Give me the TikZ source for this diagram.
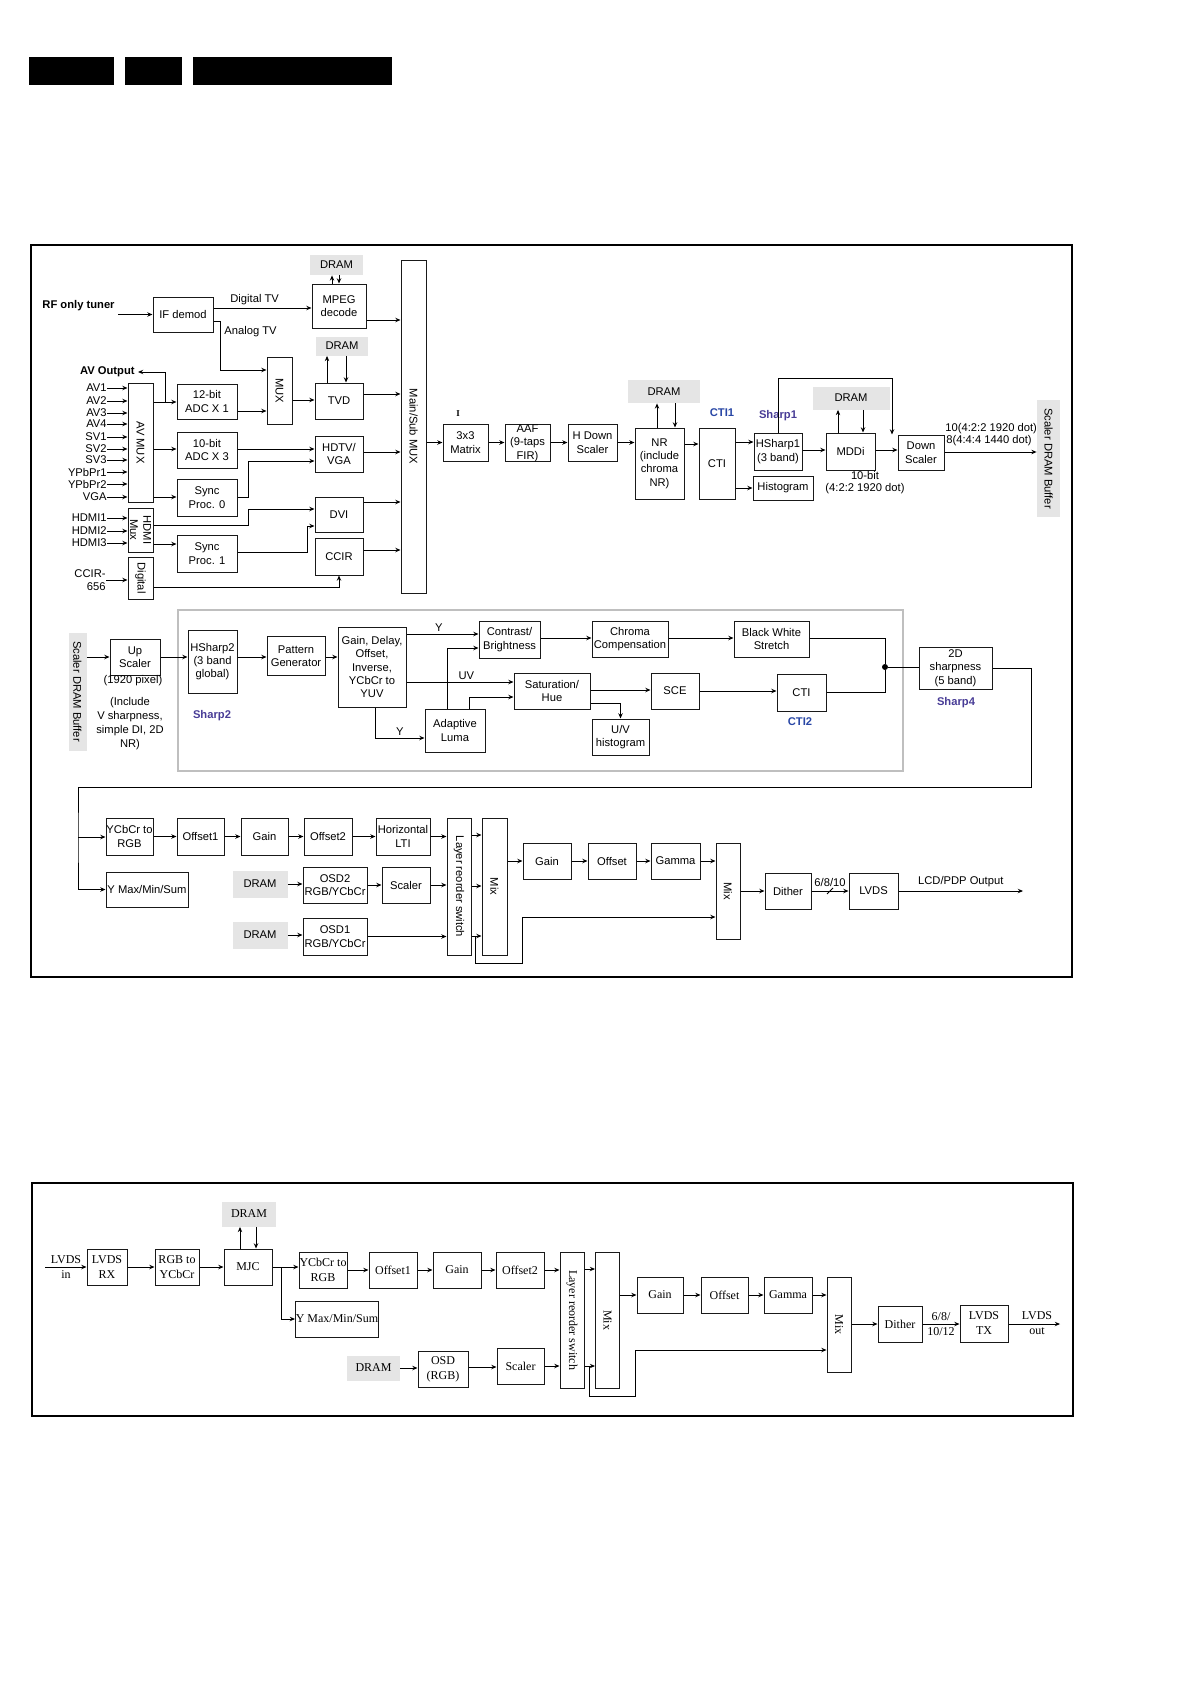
\documentclass[tikz,border=0pt]{standalone}
\usepackage{fontspec}
\setmainfont{Liberation Sans}
\newfontfamily\timesfont{Liberation Serif}
\usetikzlibrary{arrows.meta, positioning}
\definecolor{sharpblue}{RGB}{72,60,150}
\definecolor{ctiblue}{RGB}{40,70,165}

\begin{document}
\begin{tikzpicture}[
    x=0.5pt, y=-0.5pt,
    every node/.style = {font=\fontsize{5.6}{6.7}\selectfont, inner sep=0pt},
    blk/.style = {draw=black!90, line width=0.5pt, align=center, fill=white},
    sz/.style 2 args = {minimum width=#1*0.5pt, minimum height=#2*0.5pt},
    dramblk/.style = {fill=black!10, align=center},
    vtext/.style = {rotate=-90, align=center},
    tag/.style = {font=\fontsize{5.6}{6.7}\selectfont\bfseries, inner xsep=1.5pt},
    serif/.style = {font=\fontsize{6}{7.5}\selectfont\timesfont},
    arr/.style = {-{Stealth[length=2.6pt, width=2.2pt]}, line width=0.45pt},
    wire/.style = {line width=0.45pt}
]
\useasboundingbox (0,0) rectangle (1192,1685);

\fill (29,57) rectangle (114,85);
\fill (125,57) rectangle (182,85);
\fill (193,57) rectangle (392,85);

\draw[line width=1pt] (31,245) rectangle (1072,977);
\draw[line width=1pt] (32,1183) rectangle (1073,1416);

% input side
\node[tag, anchor=east] (rf) at (118,306) {RF only tuner};
\node[tag, anchor=east] (avout) at (138,372) {AV Output};
\node[blk, sz={60}{35}] (ifd) at (183,314.5) {IF demod};
\node[blk, sz={54}{44}] (mpeg) at (339,306) {MPEG\\decode};
\node[dramblk, sz={53}{20}] (dram1) at (336.5,265) {DRAM};
\node[blk, sz={25}{67}] (mux) at (279.5,390.5) {};
\node[vtext] at (mux) {MUX};
\node[dramblk, sz={52}{19}] (dram2) at (342,346) {DRAM};
\node[blk, sz={48}{36}] (tvd) at (339,401) {TVD};
\node[blk, sz={25}{333}] (msmux) at (413.5,426.5) {};
\node[vtext] at (msmux) {Main/Sub MUX};
\node[blk, sz={25}{119}] (avmux) at (140.5,442.5) {};
\node[vtext] at (avmux) {AV MUX};
\node[blk, sz={60}{35}] (adc12) at (207,401.5) {12-bit\\ADC X 1};
\node[blk, sz={60}{36}] (adc10) at (207,450) {10-bit\\ADC X 3};
\node[blk, sz={60}{37}] (sync0) at (207,497.5) {Sync\\Proc. 0};
\node[blk, sz={48}{36}] (hdtv) at (339,454) {HDTV/\\VGA};
\node[blk, sz={25}{44}] (hdmimux) at (140.5,530) {};
\node[vtext] at (hdmimux) {HDMI\\Mux};
\node[blk, sz={48}{35}] (dvi) at (339,514.5) {DVI};
\node[blk, sz={60}{37}] (sync1) at (207,553.5) {Sync\\Proc. 1};
\node[blk, sz={48}{37}] (ccir) at (339,556.5) {CCIR};
\node[blk, sz={25}{42}] (digi) at (140.5,578) {};
\node[vtext] at (digi) {Digital};
\node[anchor=east, align=right] (ccirin) at (106,580) {CCIR-\\656};
\coordinate (avsplit) at (165,402);

\foreach \src/\yy in {AV1/388, AV2/401, AV3/413, AV4/424, SV1/437, SV2/449, SV3/460, YPbPr1/472, YPbPr2/484, VGA/497} {
    \node[anchor=east] (in\src) at (107,\yy) {\src};
    \draw[arr] (in\src.east) -- (avmux.west |- in\src.east);
}
\foreach \src/\yy in {HDMI1/518, HDMI2/531, HDMI3/543} {
    \node[anchor=east] (in\src) at (107,\yy) {\src};
    \draw[arr] (in\src.east) -- (hdmimux.west |- in\src.east);
}

\draw[arr] (rf.east |- ifd.west) -- (ifd.west);
\draw[arr] (ifd.east |- 0,308) -- node[above=1.5pt, pos=0.42] {Digital TV} (mpeg.west |- 0,308);
\draw[arr] (ifd.east |- 0,321) -| (220,370) -- (mux.west |- 0,370);
\node[anchor=west] (analog) at (224,332) {Analog TV};
\draw[arr] (mpeg.north -| 332,0) -- (dram1.south -| 332,0);
\draw[arr] (dram1.south -| 339,0) -- (mpeg.north -| 339,0);
\draw[arr] (mpeg.east |- 0,320) -- (msmux.west |- 0,320);
\draw[arr] (tvd.north -| 327,0) -- (dram2.south -| 327,0);
\draw[arr] (dram2.south -| 346,0) -- (tvd.north -| 346,0);
\draw[arr] (mux.east |- 0,400) -- (tvd.west |- 0,400);
\draw[arr] (tvd.east |- 0,394) -- (msmux.west |- 0,394);
\draw[arr] (avmux.east |- 0,402) -- (adc12.west |- 0,402);
\draw[arr] (avsplit) |- (avout.east);
\draw[arr] (adc12.east |- 0,411) -- (mux.west |- 0,411);
\draw[arr] (avmux.east |- 0,449) -- (adc10.west |- 0,449);
\draw[arr] (adc10.east |- 0,449) -- (hdtv.west |- 0,449);
\draw[arr] (avmux.east |- 0,497) -- (sync0.west |- 0,497);
\draw[arr] (sync0.east |- 0,497) -| (248,461) -- (hdtv.west |- 0,461);
\draw[arr] (hdtv.east |- 0,452) -- (msmux.west |- 0,452);
\draw[arr] (hdmimux.east |- 0,525) -| (248,509) -- (dvi.west |- 0,509);
\draw[arr] (hdmimux.east |- 0,544) -- (sync1.west |- 0,544);
\draw[arr] (sync1.east |- 0,552) -| (307,526) -- (dvi.west |- 0,526);
\draw[arr] (dvi.east |- 0,502) -- (msmux.west |- 0,502);
\draw[arr] (ccir.east |- 0,550) -- (msmux.west |- 0,550);
\draw[arr] (ccirin.east) -- (digi.west |- ccirin.east);
\draw[arr] (digi.east |- 0,587) -| (ccir.south);

% main path
\node[blk, sz={45}{37}] (matrix) at (465.5,442.5) {3x3\\Matrix};
\node[font=\fontsize{4.5}{5}\selectfont\timesfont\bfseries] (mark) at (458,414) {I};
\node[blk, sz={45}{36}] (aaf) at (527.5,443) {AAF\\(9-taps\\FIR)};
\node[blk, sz={49}{37}] (hdown) at (592.5,442.5) {H Down\\Scaler};
\node[blk, sz={49}{71}] (nr) at (659.5,463.5) {NR\\(include\\chroma\\NR)};
\node[dramblk, sz={72}{23}] (dram3) at (664,391.5) {DRAM};
\node[blk, sz={36}{71}] (cti) at (717,463.5) {CTI};
\node[tag, text=ctiblue] (cti1) at (722,413) {CTI1};
\node[blk, sz={48}{37}] (hsharp1) at (778,451.5) {HSharp1\\(3 band)};
\node[tag, text=sharpblue] (sharp1) at (778,416) {Sharp1};
\node[blk, sz={60}{24}] (hist) at (783,488) {Histogram};
\node[blk, sz={49}{37}] (mddi) at (850.5,451.5) {MDDi};
\node[dramblk, sz={77}{23}] (dram4) at (851,398) {DRAM};
\node[blk, sz={46}{35}] (dscaler) at (921,452.5) {Down\\Scaler};
\node[dramblk, sz={23}{117}] (sdb1) at (1048.5,458.5) {};
\node[vtext] at (sdb1) {Scaler DRAM Buffer};
\node (bit10) at (865,475) {10-bit};
\node (fmt1) at (865,489) {(4:2:2 1920 dot)};
\node[anchor=west] (fmt2) at (945,429) {10(4:2:2 1920 dot)};
\node[anchor=west] (fmt3) at (946,441) {8(4:4:4 1440 dot)};

\draw[arr] (msmux.east |- matrix.west) -- (matrix.west);
\draw[arr] (matrix.east) -- (aaf.west |- matrix.east);
\draw[arr] (aaf.east |- matrix.east) -- (hdown.west |- matrix.east);
\draw[arr] (hdown.east) -- (nr.west |- hdown.east);
\draw[arr] (nr.north -| 657,0) -- (dram3.south -| 657,0);
\draw[arr] (dram3.south -| 675,0) -- (nr.north -| 675,0);
\draw[arr] (nr.east |- 0,444) -- (cti.west |- 0,444);
\draw[arr] (cti.east |- 0,442) -- (hsharp1.west |- 0,442);
\draw[arr] (cti.east |- hist.west) -- (hist.west);
\draw[arr] (hsharp1.east |- 0,450) -- (mddi.west |- 0,450);
\draw[arr] (mddi.north -| 838,0) -- (dram4.south -| 838,0);
\draw[arr] (dram4.south -| 863,0) -- (mddi.north -| 863,0);
\draw[arr] (mddi.east |- 0,450) -- (dscaler.west |- 0,450);
\draw[arr] (hsharp1.north) |- (892,378) -- (dscaler.north west -| 892,0);
\draw[arr] (dscaler.east |- 0,452) -- (sdb1.west |- 0,452);

% post processing
\draw[black!25, line width=0.6pt] (178,610) rectangle (903,771);
\node[dramblk, sz={18}{118}] (sdb2) at (77.5,691.5) {};
\node[vtext] at (sdb2) {Scaler DRAM Buffer};
\node[blk, sz={50}{36}] (upsc) at (135,657) {Up\\Scaler};
\node (upnote) at (133,681) {(1920 pixel)};
\node[align=center, font=\fontsize{5.6}{7}\selectfont] (upnote2) at (130,724) {(Include\\V sharpness,\\simple DI, 2D\\NR)};
\node[blk, sz={49}{63}] (hsharp2) at (212.5,661.5) {HSharp2\\(3 band\\global)};
\node[tag, text=sharpblue] (sharp2) at (212,716) {Sharp2};
\node[blk, sz={58}{39}] (pattern) at (296,656) {Pattern\\Generator};
\node[blk, sz={68}{80}] (gdo) at (372,667) {Gain, Delay,\\Offset,\\Inverse,\\YCbCr to\\YUV};
\node[blk, sz={61}{37}] (cb) at (509.5,639.5) {Contrast/\\Brightness};
\node[blk, sz={76}{36}] (cc) at (630,639) {Chroma\\Compensation};
\node[blk, sz={75}{36}] (bws) at (771.5,639) {Black White\\Stretch};
\node[blk, sz={76}{36}] (sat) at (552,691) {Saturation/\\Hue};
\node[blk, sz={48}{36}] (sce) at (675,691) {SCE};
\node[blk, sz={49}{37}] (cti2b) at (801.5,692.5) {CTI};
\node[tag, text=ctiblue] (cti2) at (800,722) {CTI2};
\node[blk, sz={60}{43}] (al) at (455,730.5) {Adaptive\\Luma};
\node[blk, sz={57}{36}] (uvh) at (620.5,737) {U/V\\histogram};
\node[blk, sz={73}{42}] (sh2d) at (955.5,668) {2D\\sharpness\\(5 band)};
\node[tag, text=sharpblue] (sharp4) at (956,703) {Sharp4};
\node[circle, fill, minimum size=3pt] (jn) at (885,667) {};

\draw[arr] (sdb2.east |- upsc.west) -- (upsc.west);
\draw[arr] (upsc.east) -- (hsharp2.west |- upsc.east);
\draw[arr] (hsharp2.east |- upsc.east) -- (pattern.west |- upsc.east);
\draw[arr] (pattern.east |- upsc.east) -- (gdo.west |- upsc.east);
\draw[arr] (gdo.east |- 0,634) -- node[above=1pt, pos=0.45] {Y} (cb.west |- 0,634);
\draw[arr] (al.north -| 447,0) |- (cb.west |- 0,648);
\draw[arr] (gdo.east |- 0,682) -- node[above=1pt, pos=0.56] {UV} (sat.west |- 0,682);
\draw[arr] (al.north -| 469,0) |- (sat.west |- 0,697);
\draw[arr] (gdo.south -| 375,0) |- node[above=1pt, pos=0.75] {Y} (al.west |- 0,738);
\draw[arr] (cb.east |- 0,638) -- (cc.west |- 0,638);
\draw[arr] (cc.east |- 0,638) -- (bws.west |- 0,638);
\draw[arr] (sat.east |- 0,690) -- (sce.west |- 0,690);
\draw[arr] (sat.east |- 0,703) -| (uvh.north);
\draw[arr] (sce.east |- 0,691) -- (cti2b.west |- 0,691);
\draw[wire] (bws.east |- 0,638) -| (jn);
\draw[wire] (cti2b.east |- 0,692) -| (jn);
\draw[wire] (jn) -- (sh2d.west |- jn);

% output side
\node[blk, sz={47}{37}] (ycr) at (129.5,836.5) {YCbCr to\\RGB};
\node[blk, sz={82}{35}] (ymm) at (147,889.5) {Y Max/Min/Sum};
\node[blk, sz={47}{37}] (off1) at (200.5,836.5) {Offset1};
\node[blk, sz={47}{37}] (gain1) at (264.5,836.5) {Gain};
\node[blk, sz={48}{37}] (off2) at (328,836.5) {Offset2};
\node[blk, sz={54}{37}] (hlti) at (403,836.5) {Horizontal\\LTI};
\node[blk, sz={24}{137}] (lrs) at (459,886.5) {};
\node[vtext] at (lrs) {Layer reorder switch};
\node[blk, sz={25}{137}] (mix1) at (494.5,886.5) {};
\node[vtext] at (mix1) {Mix};
\node[dramblk, sz={55}{27}] (drama) at (260,884) {DRAM};
\node[blk, sz={64}{36}] (osd2) at (335,885) {OSD2\\RGB/YCbCr};
\node[blk, sz={48}{36}] (scl) at (406,885) {Scaler};
\node[dramblk, sz={55}{27}] (dramb) at (260,935) {DRAM};
\node[blk, sz={64}{37}] (osd1) at (335,936.5) {OSD1\\RGB/YCbCr};
\node[blk, sz={48}{36}] (gain2) at (547,861) {Gain};
\node[blk, sz={48}{36}] (offs) at (612,861) {Offset};
\node[blk, sz={49}{36}] (gamma) at (675.5,861) {Gamma};
\node[blk, sz={24}{96}] (mix2) at (728,891) {};
\node[vtext] at (mix2) {Mix};
\node[blk, sz={46}{36}] (dither) at (788,891) {Dither};
\node[blk, sz={49}{36}] (lvds) at (873.5,891) {LVDS};
\coordinate (lcdout) at (1023,891);
\coordinate (loopa) at (78,837);
\coordinate (byp) at (475,936);

\draw[arr] (sh2d.east) -| (1031,787) -| (loopa) |- (ymm.west);
\draw[arr] (loopa) -- (ycr.west |- loopa);
\draw[arr] (ycr.east) -- (off1.west);
\draw[arr] (off1.east) -- (gain1.west);
\draw[arr] (gain1.east) -- (off2.west);
\draw[arr] (off2.east) -- (hlti.west);
\draw[arr] (hlti.east) -- (lrs.west |- hlti.east);
\draw[arr] (lrs.east |- 0,835) -- (mix1.west |- 0,835);
\draw[arr] (drama.east) -- (osd2.west |- drama.east);
\draw[arr] (osd2.east) -- (scl.west);
\draw[arr] (scl.east) -- (lrs.west |- scl.east);
\draw[arr] (lrs.east |- 0,886) -- (mix1.west |- 0,886);
\draw[arr] (dramb.east) -- (osd1.west |- dramb.east);
\draw[arr] (osd1.east) -- (lrs.west |- osd1.east);
\draw[arr] (lrs.east |- 0,936) -- (mix1.west |- 0,936);
\draw[arr] (byp) |- (522,963) |- (mix2.west |- 0,917);
\draw[arr] (mix1.east |- gain2.west) -- (gain2.west);
\draw[arr] (gain2.east) -- (offs.west);
\draw[arr] (offs.east) -- (gamma.west);
\draw[arr] (gamma.east) -- (mix2.west |- gamma.east);
\draw[arr] (mix2.east |- dither.west) -- (dither.west);
\draw[arr] (dither.east) -- node[above=2pt] {6/8/10} (lvds.west |- dither.east);
\draw[wire] (827,894) -- (833,888);
\draw[arr] (lvds.east) -- node[above=2pt] {LCD/PDP Output} (lcdout);

% second chip
\coordinate (lvdsinpt) at (45,1267);
\coordinate (mjcsplit) at (281,1267);
\coordinate (byp2) at (589,1366);
\coordinate (lvdsoutpt) at (1060,1324);
\node[serif, align=center] (lvdsin) at (66,1267.5) {LVDS\\in};
\node[blk, serif, sz={40}{36}] (lvdsrx) at (107,1267) {LVDS\\RX};
\node[blk, serif, sz={44}{36}] (rgb2y) at (177,1267) {RGB to\\YCbCr};
\node[blk, serif, sz={48}{36}] (mjc) at (248,1267) {MJC};
\node[dramblk, serif, sz={54}{25}] (dramc) at (249,1214) {DRAM};
\node[blk, serif, sz={48}{36}] (ycr2) at (323,1270) {YCbCr to\\RGB};
\node[blk, serif, sz={83}{36}] (ymm2) at (337,1319) {Y Max/Min/Sum};
\node[blk, serif, sz={48}{36}] (off1b) at (393,1270) {Offset1};
\node[blk, serif, sz={48}{36}] (gainb) at (457,1270) {Gain};
\node[blk, serif, sz={48}{36}] (off2b) at (520,1270) {Offset2};
\node[blk, sz={24}{136}] (lrs2) at (572,1320) {};
\node[vtext, serif] at (lrs2) {Layer reorder switch};
\node[blk, sz={24}{136}] (mix1b) at (607.5,1320) {};
\node[vtext, serif] at (mix1b) {Mix};
\node[dramblk, serif, sz={53}{25}] (dramd) at (373.5,1368) {DRAM};
\node[blk, serif, sz={50}{36}] (osd) at (443,1369) {OSD\\(RGB)};
\node[blk, serif, sz={47}{36}] (sclb) at (520.5,1366) {Scaler};
\node[blk, serif, sz={46}{36}] (gainc) at (660,1295) {Gain};
\node[blk, serif, sz={47}{36}] (offc) at (724.5,1295) {Offset};
\node[blk, serif, sz={48}{36}] (gammac) at (788,1295) {Gamma};
\node[blk, sz={24}{95}] (mix2b) at (839,1324.5) {};
\node[vtext, serif] at (mix2b) {Mix};
\node[blk, serif, sz={44}{36}] (ditherb) at (900,1324) {Dither};
\node[blk, serif, sz={48}{37}] (lvdstx) at (984,1323.5) {LVDS\\TX};
\node[serif, align=center] (bits) at (941,1324.5) {6/8/\\10/12};
\node[serif, align=center] (lvdsout) at (1037,1323.5) {LVDS\\out};

\draw[arr] (lvdsinpt) -- (lvdsrx.west);
\draw[arr] (lvdsrx.east) -- (rgb2y.west);
\draw[arr] (rgb2y.east) -- (mjc.west);
\draw[arr] (mjc.north -| 240,0) -- (dramc.south -| 240,0);
\draw[arr] (dramc.south -| 256,0) -- (mjc.north -| 256,0);
\draw[arr] (mjc.east) -- (ycr2.west |- mjc.east);
\draw[arr] (mjcsplit) |- (ymm2.west);
\draw[arr] (ycr2.east) -- (off1b.west);
\draw[arr] (off1b.east) -- (gainb.west);
\draw[arr] (gainb.east) -- (off2b.west);
\draw[arr] (off2b.east) -- (lrs2.west |- off2b.east);
\draw[arr] (dramd.east) -- (osd.west |- dramd.east);
\draw[arr] (osd.east |- 0,1367) -- (sclb.west |- 0,1367);
\draw[arr] (sclb.east) -- (lrs2.west |- sclb.east);
\draw[arr] (lrs2.east |- 0,1269) -- (mix1b.west |- 0,1269);
\draw[arr] (lrs2.east |- 0,1366) -- (mix1b.west |- 0,1366);
\draw[arr] (byp2) |- (635,1396) |- (mix2b.west |- 0,1350);
\draw[arr] (mix1b.east |- gainc.west) -- (gainc.west);
\draw[arr] (gainc.east) -- (offc.west);
\draw[arr] (offc.east) -- (gammac.west);
\draw[arr] (gammac.east) -- (mix2b.west |- gammac.east);
\draw[arr] (mix2b.east |- ditherb.west) -- (ditherb.west);
\draw[arr] (ditherb.east) -- (lvdstx.west |- ditherb.east);
\draw[arr] (lvdstx.east |- 0,1324) -- (lvdsoutpt);

\end{tikzpicture}
\end{document}
